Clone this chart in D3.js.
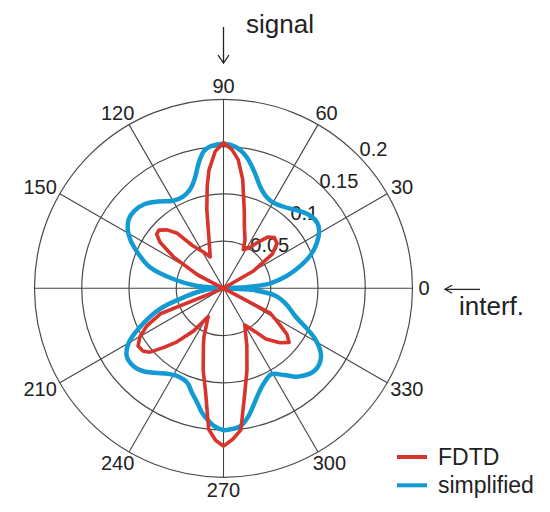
<!DOCTYPE html>
<html>
<head>
<meta charset="utf-8">
<script src="https://cdn.jsdelivr.net/npm/d3@7"></script>
<style>
  body { margin: 0; background: #fff; }
  text { font-family: "Liberation Sans", Arial, sans-serif; fill: #222; }
</style>
</head>
<body>
<svg id="chart" width="550" height="512"></svg>
<script>
// FDTD pattern (angle in degrees, counter-clockwise from 0 = right)
const fdtdAngles = [0, 30, 35, 40, 45, 49, 54, 58, 63, 66, 71, 75, 80, 83.5, 86.5, 90,
  93.5, 97, 99, 102, 106.7, 113, 119, 126, 130, 134, 138, 141, 144, 148, 153, 180,
  202, 206, 210, 214, 218, 221, 225, 229, 235, 241.5, 248, 250, 256, 260, 264, 267,
  270, 273.5, 277, 281.5, 286, 292, 300, 305, 310, 316, 320.5, 324, 328, 332];
const fdtdValues = [0, 0.036, 0.063, 0.074, 0.076, 0.072, 0.059, 0.050, 0.046, 0.056, 0.068, 0.085, 0.117, 0.137, 0.147, 0.154,
  0.145, 0.126, 0.110, 0.085, 0.053, 0.036, 0.044, 0.056, 0.076, 0.086, 0.092, 0.091, 0.083, 0.062, 0.030, 0,
  0.072, 0.090, 0.102, 0.109, 0.108, 0.103, 0.088, 0.075, 0.055, 0.034, 0.055, 0.062, 0.089, 0.110, 0.150, 0.161,
  0.167, 0.160, 0.151, 0.113, 0.090, 0.066, 0.045, 0.054, 0.070, 0.083, 0.090, 0.083, 0.068, 0.056];

// simplified model pattern
const simpAngles = [0, 3, 6, 11, 16, 21, 26, 31, 35, 41, 47, 54, 61, 66, 70, 75, 80, 85, 90,
  95, 98, 101, 105, 109, 114, 120, 127, 133, 139, 144, 149, 153, 158, 164, 170, 175, 180,
  185, 192, 198, 205, 210, 215, 221, 226, 231, 237, 242, 249, 253, 257, 260, 263, 266, 270,
  274, 277, 281, 285, 290, 294, 299, 305, 310, 318, 325, 331, 339, 346, 352, 357];
const simpValues = [0.003, 0.026, 0.050, 0.068, 0.084, 0.099, 0.110, 0.118, 0.121, 0.119, 0.113, 0.107, 0.105, 0.108, 0.114, 0.127, 0.141, 0.150, 0.153,
  0.151, 0.147, 0.136, 0.119, 0.110, 0.106, 0.107, 0.115, 0.122, 0.125, 0.124, 0.118, 0.110, 0.097, 0.081, 0.052, 0.028, 0.004,
  0.020, 0.040, 0.071, 0.098, 0.116, 0.125, 0.126, 0.122, 0.115, 0.108, 0.105, 0.107, 0.115, 0.124, 0.133, 0.140, 0.146, 0.150,
  0.149, 0.147, 0.138, 0.126, 0.114, 0.108, 0.104, 0.112, 0.122, 0.130, 0.126, 0.111, 0.081, 0.068, 0.055, 0.030];

const angleTicks = [0, 30, 60, 90, 120, 150, 210, 240, 270, 300, 330];
const spokeAngles = [0, 30, 60, 90, 120, 150, 180, 210, 240, 270, 300, 330];
const radialTicks = [0.05, 0.1, 0.15, 0.2];
const seriesNames = ["FDTD", "simplified"];
const seriesColors = ["#d8342c", "#129ad2"];

const svg = d3.select("#chart");
const cx = 223.5, cy = 288.3, R = 189;
const rad = d => d * Math.PI / 180;
const r = d3.scaleLinear().domain([0, 0.2]).range([0, R]);

const g = svg.append("g").attr("transform", "translate(" + cx + "," + cy + ")");

// grid circles
g.selectAll(".ring").data(radialTicks).enter().append("circle")
  .attr("r", d => r(d))
  .attr("fill", "none")
  .attr("stroke", "#4a4a4a")
  .attr("stroke-width", 1.2);

// spokes
g.selectAll(".spoke").data(spokeAngles).enter().append("line")
  .attr("x1", 0).attr("y1", 0)
  .attr("x2", d => r(0.2) * Math.cos(rad(d)))
  .attr("y2", d => -r(0.2) * Math.sin(rad(d)))
  .attr("stroke", "#444")
  .attr("stroke-width", 1.1);

// radial tick labels
g.selectAll(".rlab").data(radialTicks).enter().append("text")
  .attr("x", d => (r(d) + 16) * Math.cos(rad(43)))
  .attr("y", d => -(r(d) + 16) * Math.sin(rad(43)))
  .attr("text-anchor", "middle")
  .attr("dominant-baseline", "central")
  .attr("font-size", 20)
  .text(d => d);

// angle labels
g.selectAll(".alab").data(angleTicks).enter().append("text")
  .attr("font-size", 20)
  .attr("dominant-baseline", "central")
  .attr("y", d => -(R + 7) * Math.sin(rad(d)) - 6 * Math.sin(rad(d)))
  .text(d => d)
  .each(function(d) {
    const len = this.getComputedTextLength();
    const t = (1 - Math.cos(rad(d))) / 2;
    d3.select(this).attr("x", (R + 6) * Math.cos(rad(d)) - t * len);
  });

// curves
const line = d3.lineRadial()
  .angle(d => rad(90 - d[0]))
  .radius(d => r(d[1]));

const simp = simpAngles.map((a, i) => [a, simpValues[i]]);
const fdtd = fdtdAngles.map((a, i) => [a, fdtdValues[i]]);

g.append("path")
  .attr("d", line.curve(d3.curveCatmullRomClosed.alpha(0.5))(simp))
  .attr("fill", "none")
  .attr("stroke", seriesColors[1])
  .attr("stroke-width", 4.5)
  .attr("stroke-linejoin", "round");

g.append("path")
  .attr("d", line.curve(d3.curveLinearClosed)(fdtd))
  .attr("fill", "none")
  .attr("stroke", seriesColors[0])
  .attr("stroke-width", 3.6)
  .attr("stroke-linejoin", "round");

// signal arrow
svg.append("text").attr("x", 246).attr("y", 33).attr("font-size", 26).text("signal");
svg.append("line").attr("x1", cx).attr("y1", 27).attr("x2", cx).attr("y2", 63)
  .attr("stroke", "#222").attr("stroke-width", 1.3);
svg.append("path").attr("d", "M" + (cx - 5.5) + ",55L" + cx + ",63L" + (cx + 5.5) + ",55")
  .attr("fill", "none").attr("stroke", "#222").attr("stroke-width", 1.3);

// interference arrow
svg.append("text").attr("x", 459).attr("y", 315).attr("font-size", 26).text("interf.");
svg.append("line").attr("x1", 445).attr("y1", cy + 1).attr("x2", 480).attr("y2", cy + 1)
  .attr("stroke", "#222").attr("stroke-width", 1.3);
svg.append("path").attr("d", "M452," + (cy - 3) + "L445," + (cy + 1) + "L452," + (cy + 5))
  .attr("fill", "none").attr("stroke", "#222").attr("stroke-width", 1.3);

// legend
const legend = svg.append("g").attr("transform", "translate(397,457)");
seriesNames.forEach((name, i) => {
  legend.append("line")
    .attr("x1", 0).attr("x2", 30)
    .attr("y1", i * 28.3).attr("y2", i * 28.3)
    .attr("stroke", seriesColors[i]).attr("stroke-width", 4);
  legend.append("text")
    .attr("x", 41).attr("y", i * 28.3 + 8)
    .attr("font-size", 23)
    .text(name);
});
</script>
</body>
</html>
